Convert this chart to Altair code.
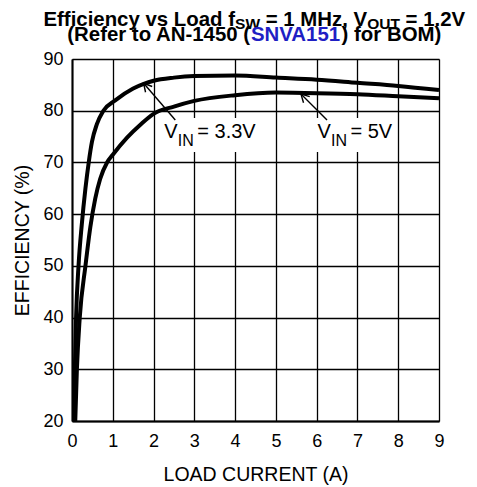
import math
import altair as alt
import pandas as pd

# ---------------- data ----------------
x_33 = [0.05, 0.07, 0.10, 0.16, 0.24, 0.33, 0.41, 0.49, 0.61, 0.77, 1.06, 1.5, 1.76, 2.0, 2.5, 3.0, 4.0, 5.0, 6.0, 7.0, 8.0, 9.0]
eff_33 = [20, 30, 40, 50, 58, 65, 70, 74, 77.4, 80, 82, 84.3, 85.2, 85.8, 86.4, 86.7, 86.8, 86.4, 86.0, 85.4, 84.8, 84.0]
x_5 = [0.08, 0.12, 0.19, 0.33, 0.45, 0.57, 0.69, 0.86, 1.0, 1.35, 1.69, 2.0, 2.5, 3.0, 4.0, 5.0, 6.0, 7.0, 8.0, 9.0]
eff_5 = [20, 30, 40, 50, 57.5, 63, 66.8, 70, 71.5, 74.8, 77.4, 79.4, 80.8, 81.9, 83.0, 83.5, 83.4, 83.2, 82.8, 82.4]
series_names = ["VIN = 3.3V", "VIN = 5V"]

x_ticks = [0, 1, 2, 3, 4, 5, 6, 7, 8, 9]
y_ticks = [20, 30, 40, 50, 60, 70, 80, 90]

# annotation labels
label_main = ["V", "V"]
label_sub = ["IN", "IN"]
label_rest = ["= 3.3V", "= 5V"]
label_x = [2.263, 6.02]
label_y = [74.67, 74.67]
# white boxes behind labels
box_x = [2.165, 5.93]
box_x2 = [4.70, 7.93]
box_y = [78.6, 78.6]
box_y2 = [72.0, 72.0]
# arrows (tail -> tip)
arrow_x = [2.533, 6.253]
arrow_y = [78.2, 78.2]
arrow_x2 = [1.757, 5.615]
arrow_y2 = [85.3, 83.23]

title1 = [("Efficiency vs Load f", "M", "black"), ("SW", "S", "black"),
          (" = 1 MHz, V", "M", "black"), ("OUT", "S", "black"), (" = 1.2V", "M", "black")]
title2 = [("(Refer to AN-1450 (", "M", "black"), ("SNVA151", "M", "#1f1fc4"),
          (") for BOM)", "M", "black")]

# ---------------- layout ----------------
W, H = 367, 362
XMIN, XMAX, YMIN, YMAX = 0, 9, 20, 90
PX = W / (XMAX - XMIN)
PY = H / (YMAX - YMIN)
FONT = "Liberation Sans"

BOLD_W = {' ': 278, 'E': 667, 'f': 333, 'i': 278, 'c': 556, 'e': 556, 'n': 611, 'y': 556,
          'v': 556, 's': 556, 'L': 611, 'o': 611, 'a': 556, 'd': 611, 'S': 667, 'W': 944,
          '=': 584, 'M': 833, 'H': 722, 'z': 500, ',': 278, 'V': 667, 'O': 778, 'U': 722,
          'T': 611, '.': 278, '(': 333, ')': 333, 'R': 722, 'r': 389, 't': 333, 'A': 722,
          'N': 722, '-': 333, 'B': 722}
for d in "0123456789":
    BOLD_W[d] = 556


def bold_width(s, size):
    return sum(BOLD_W.get(ch, 556) for ch in s) * size / 1000.0


T_MAIN, T_SUB = 20.4, 15.5
T_CENTER = 182.3


def title_layers(segs, base_y):
    sizes = {"M": T_MAIN, "S": T_SUB}
    total = sum(bold_width(t, sizes[k]) for t, k, _ in segs)
    x = T_CENTER - total / 2
    out = []
    for t, k, col in segs:
        dy = 3.0 if k == "S" else 0
        stripped = t.lstrip(" ")
        lead = bold_width(t[: len(t) - len(stripped)], sizes[k])
        out.append(
            alt.Chart(pd.DataFrame({"t": [stripped]})).mark_text(
                font=FONT, fontWeight="bold", fontSize=sizes[k], color=col,
                align="left", baseline="alphabetic"
            ).encode(x=alt.value(x + lead), y=alt.value(base_y + dy), text="t:N")
        )
        x += bold_width(t, sizes[k])
    return out


# ---------------- data frames ----------------
curves = pd.DataFrame({
    "load": x_33 + x_5,
    "eff": eff_33 + eff_5,
    "series": [series_names[0]] * len(x_33) + [series_names[1]] * len(x_5),
})
labels = pd.DataFrame({"x": label_x, "y": label_y, "main": label_main,
                       "sub": label_sub, "rest": label_rest})
boxes = pd.DataFrame({"x": box_x, "x2": box_x2, "y": box_y, "y2": box_y2})
angles = [math.degrees(math.atan2(-(y2 - y1) * PY, (x2 - x1) * PX)) % 360
          for x1, y1, x2, y2 in zip(arrow_x, arrow_y, arrow_x2, arrow_y2)]
arrows = pd.DataFrame({"x": arrow_x, "y": arrow_y, "x2": arrow_x2, "y2": arrow_y2,
                       "ang": angles})

xs = alt.Scale(domain=[XMIN, XMAX], nice=False, zero=False)
ys = alt.Scale(domain=[YMIN, YMAX], nice=False, zero=False)

x_axis = alt.Axis(values=x_ticks, title="LOAD CURRENT (A)", grid=True, ticks=False, tickSize=0,
                  labelPadding=11, labelFontSize=18, labelFont=FONT, labelColor="black",
                  titleFont=FONT, titleFontSize=19.5, titleFontWeight="normal", titleColor="black",
                  titleBaseline="alphabetic", titleY=59,
                  domainColor="black", domainWidth=2, gridColor="black", gridWidth=1.3,
                  gridOpacity=1, labelFlush=False)
y_axis = alt.Axis(values=y_ticks, title="EFFICIENCY (%)", grid=True, ticks=False, tickSize=0,
                  labelPadding=9, labelFontSize=18, labelFont=FONT, labelColor="black",
                  titleFont=FONT, titleFontSize=19.5, titleFontWeight="normal", titleColor="black",
                  titleAngle=270, titleBaseline="alphabetic", titleX=-44, titleY=H / 2,
                  titleAlign="center",
                  domainColor="black", domainWidth=2, gridColor="black", gridWidth=1.3,
                  gridOpacity=1, labelFlush=False)

lines = alt.Chart(curves).mark_line(
    color="black", strokeWidth=4, interpolate="monotone", strokeJoin="round"
).encode(
    x=alt.X("load:Q", scale=xs, axis=x_axis),
    y=alt.Y("eff:Q", scale=ys, axis=y_axis),
    detail="series:N",
)

box_layer = alt.Chart(boxes).mark_rect(color="white").encode(
    x=alt.X("x:Q", scale=xs), x2="x2:Q", y=alt.Y("y:Q", scale=ys), y2="y2:Q"
)

arrow_lines = alt.Chart(arrows).mark_rule(color="black", strokeWidth=1.4).encode(
    x=alt.X("x:Q", scale=xs), y=alt.Y("y:Q", scale=ys), x2="x2:Q", y2="y2:Q"
)
arrow_heads = alt.Chart(arrows).mark_point(
    shape="M -1 -0.55 L 0 0 L -1 0.55", filled=False, stroke="black",
    strokeWidth=1.4, size=256, opacity=1
).encode(
    x=alt.X("x2:Q", scale=xs), y=alt.Y("y2:Q", scale=ys),
    angle=alt.Angle("ang:Q", scale=None),
)

txt_main = alt.Chart(labels).mark_text(
    font=FONT, fontSize=20, color="black", align="left", baseline="alphabetic"
).encode(x=alt.X("x:Q", scale=xs), y=alt.Y("y:Q", scale=ys), text="main:N")
txt_sub = alt.Chart(labels).mark_text(
    font=FONT, fontSize=16, color="black", align="left", baseline="alphabetic", dx=13.5, dy=7.5
).encode(x=alt.X("x:Q", scale=xs), y=alt.Y("y:Q", scale=ys), text="sub:N")
txt_rest = alt.Chart(labels).mark_text(
    font=FONT, fontSize=20, color="black", align="left", baseline="alphabetic", dx=33
).encode(x=alt.X("x:Q", scale=xs), y=alt.Y("y:Q", scale=ys), text="rest:N")

layers = [lines, box_layer, arrow_lines, arrow_heads, txt_main, txt_sub, txt_rest]
layers += title_layers(title1, -32.6)
layers += title_layers(title2, -17.6)

chart = alt.layer(*layers).properties(
    width=W, height=H,
    padding={"left": 64, "top": 51, "right": 30, "bottom": 66},
    autosize=alt.AutoSizeParams(type="none"),
).configure_view(
    stroke="black", strokeWidth=2
).configure(background="white")

chart.save("out.html", embed_options={"renderer": "svg", "actions": False})
